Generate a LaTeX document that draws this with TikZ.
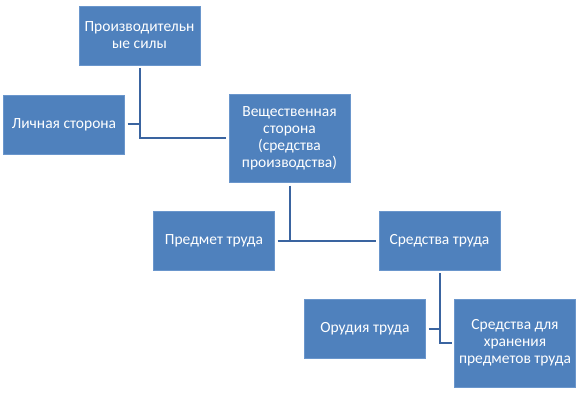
\documentclass[tikz,border=0pt]{standalone}
\usepackage{fontspec}
\setmainfont{Carlito}
\usepackage{tikz}
\usetikzlibrary{positioning,calc}
\definecolor{boxblue}{HTML}{4F81BD}
\definecolor{boxedge}{HTML}{6A96CC}
\definecolor{linkblue}{HTML}{3A64A0}

\begin{document}
\begin{tikzpicture}[x=1pt, y=-1pt, font=\fontsize{15.5}{17}\selectfont,
  box/.style={draw=boxedge, fill=boxblue, text=white, align=center, inner sep=1pt, outer sep=3pt,
    minimum width=121pt, minimum height=59pt},
  tall/.style={minimum height=88pt},
  link/.style={draw=linkblue, line width=2pt}]
  \useasboundingbox (0,0) rectangle (581,393);
  \node[box] (pf) at (139.5,35.5) {Производительн\\ые силы};
  \node[box] (lich) at (64,124.5) {Личная сторона};
  \node[box, tall] (vesh) at (289.5,138.5) {Вещественная\\сторона\\(средства\\производства)};
  \node[box] (pred) at (214,240.5) {Предмет труда};
  \node[box] (sred) at (439.5,240.5) {Средства труда};
  \node[box] (orud) at (365,328.5) {Орудия труда};
  \node[box, tall] (hran) at (515,343) {Средства для\\хранения\\предметов труда};
  % links
  \draw[link] (pf.south) |- (vesh.west);
  \draw[link] (lich.east) -- (lich.east -| pf.south);
  \draw[link] (vesh.south) -- (vesh.south |- pred.east);
  \draw[link] (pred.east) -- (sred.west);
  \draw[link] (sred.south) |- (hran.west);
  \draw[link] (orud.east) -- (orud.east -| sred.south);
\end{tikzpicture}
\end{document}
